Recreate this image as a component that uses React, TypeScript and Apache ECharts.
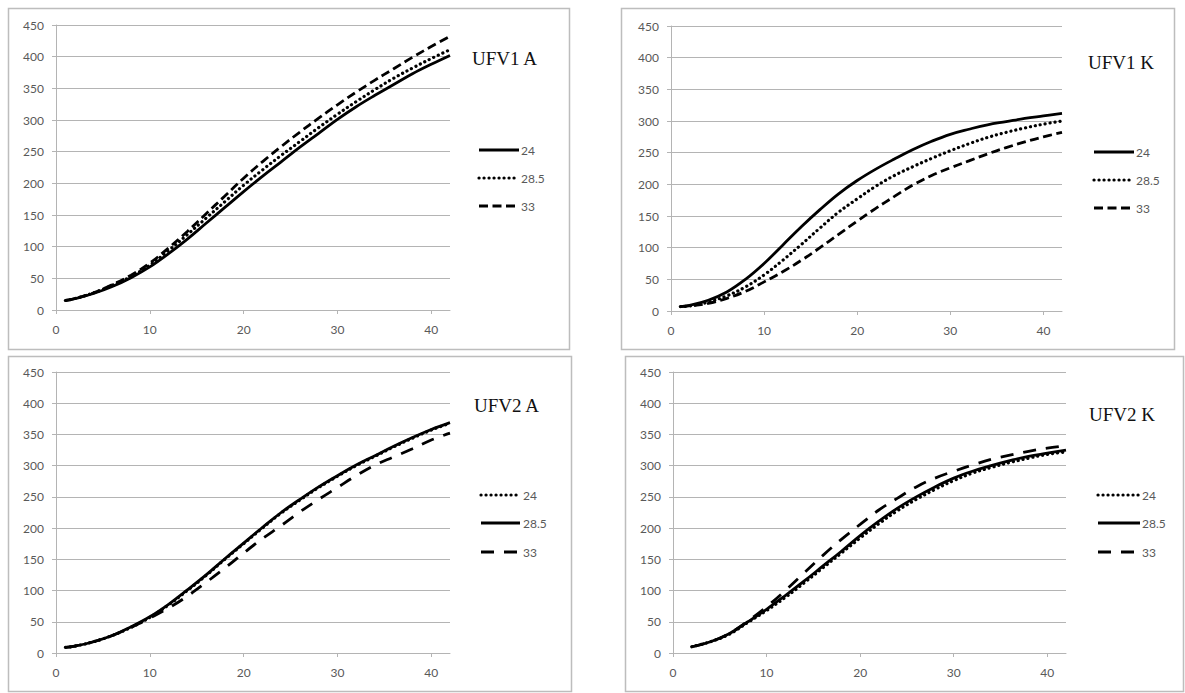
import React, { useEffect, useRef } from "react";
import * as echarts from "echarts";

// ---------- data ----------
const X_TL = [1, 2, 4, 6, 8, 10, 12, 14, 16, 18, 20, 22, 24, 26, 28, 30, 32, 34, 36, 38, 40, 42];
const X_TR = [1, 2, 4, 6, 8, 10, 12, 14, 16, 18, 20, 22, 24, 26, 28, 30, 32, 34, 36, 38, 40, 42];
const X_BL = [1, 2, 4, 6, 8, 10, 12, 14, 16, 18, 20, 22, 24, 26, 28, 30, 32, 34, 36, 38, 40, 42];
const X_BR = [2, 4, 6, 8, 10, 12, 14, 16, 18, 20, 22, 24, 26, 28, 30, 32, 34, 36, 38, 40, 42];

// UFV1 A
const UFV1A_24 = [15, 18, 26, 37, 51, 68, 89, 112, 137, 162, 187, 211, 234, 257, 279, 301, 321, 339, 356, 373, 388, 402];
const UFV1A_285 = [15, 18, 27, 39, 53, 71, 94, 119, 145, 171, 197, 221, 244, 266, 288, 309, 329, 348, 366, 382, 397, 411];
const UFV1A_33 = [15, 18, 27, 40, 55, 74, 98, 124, 152, 180, 208, 234, 258, 281, 303, 324, 344, 363, 381, 399, 416, 432];
// UFV1 K
const UFV1K_24 = [7, 9, 17, 30, 50, 75, 104, 133, 160, 185, 206, 224, 240, 255, 268, 279, 287, 294, 299, 304, 308, 312];
const UFV1K_285 = [7, 8, 14, 24, 38, 57, 80, 105, 131, 156, 177, 197, 214, 228, 241, 253, 264, 274, 282, 289, 295, 300];
const UFV1K_33 = [7, 8, 12, 20, 31, 46, 62, 80, 100, 121, 142, 162, 181, 199, 214, 226, 237, 248, 258, 267, 275, 282];
// UFV2 A
const UFV2A_24 = [9, 11, 18, 28, 41, 57, 77, 100, 124, 150, 175, 200, 224, 245, 265, 283, 300, 315, 330, 344, 357, 368];
const UFV2A_285 = [9, 11, 18, 28, 42, 58, 78, 101, 125, 151, 176, 201, 225, 246, 266, 284, 301, 316, 331, 345, 358, 369];
const UFV2A_33 = [9, 11, 18, 28, 41, 56, 72, 91, 113, 136, 160, 183, 204, 226, 246, 265, 284, 301, 314, 327, 341, 352];
// UFV2 K
const UFV2K_24 = [10, 18, 30, 49, 68, 89, 112, 136, 160, 184, 207, 228, 246, 262, 276, 288, 297, 305, 312, 318, 322];
const UFV2K_285 = [10, 18, 31, 50, 70, 92, 115, 139, 163, 188, 211, 232, 250, 266, 280, 291, 300, 308, 315, 320, 325];
const UFV2K_33 = [10, 18, 31, 51, 74, 100, 128, 156, 182, 206, 229, 248, 266, 280, 291, 301, 310, 317, 323, 328, 332];

const SERIES_NAMES = ["24", "28.5", "33"];
const PANEL_TITLES = ["UFV1 A", "UFV1 K", "UFV2 A", "UFV2 K"];
const X_TICKS = [0, 10, 20, 30, 40];

// ---------- styles ----------
const LABEL_FONT = "Lato";
const LABEL_COLOR = "#595959";
const GRID_COLOR = "#b4b4b4";
const BORDER_COLOR = "#bdbdbd";

type Pattern = "solid" | "dotted" | "dashedShort" | "dashedLong";

const lineStyleFor = (p: Pattern) => {
  const base: any = { color: "#000", width: 2.8, cap: "butt" };
  if (p === "dotted") return { ...base, type: [0.1, 4.9], cap: "round", width: 3.2 };
  if (p === "dashedShort") return { ...base, type: [9, 4.5] };
  if (p === "dashedLong") return { ...base, type: [13, 10] };
  return { ...base, type: "solid" };
};

const panels = [
  {
    xs: X_TL,
    ys: [UFV1A_24, UFV1A_285, UFV1A_33],
    patterns: ["solid", "dotted", "dashedShort"] as Pattern[],
    grid: { left: 56, top: 25, width: 394, height: 285 },
    border: { x: 8.5, y: 8.5, w: 561, h: 341 },
    title: { x: 472, y: 58 },
    legend: { x1: 479, x2: 519, tx: 521, ys: [150, 178, 206] },
  },
  {
    xs: X_TR,
    ys: [UFV1K_24, UFV1K_285, UFV1K_33],
    patterns: ["solid", "dotted", "dashedShort"] as Pattern[],
    grid: { left: 671, top: 26, width: 391, height: 285 },
    border: { x: 621.5, y: 8.5, w: 553, h: 341 },
    title: { x: 1088, y: 62 },
    legend: { x1: 1094, x2: 1134, tx: 1136, ys: [152, 180, 208] },
  },
  {
    xs: X_BL,
    ys: [UFV2A_24, UFV2A_285, UFV2A_33],
    patterns: ["dotted", "solid", "dashedLong"] as Pattern[],
    grid: { left: 56, top: 372, width: 394, height: 281 },
    border: { x: 8.5, y: 356.5, w: 563, h: 335 },
    title: { x: 474, y: 405 },
    legend: { x1: 481, x2: 520, tx: 523, ys: [495, 523, 552] },
  },
  {
    xs: X_BR,
    ys: [UFV2K_24, UFV2K_285, UFV2K_33],
    patterns: ["dotted", "solid", "dashedLong"] as Pattern[],
    grid: { left: 673, top: 372, width: 393, height: 281 },
    border: { x: 625.5, y: 356.5, w: 558, h: 335 },
    title: { x: 1089, y: 414 },
    legend: { x1: 1098, x2: 1140, tx: 1142, ys: [495, 523, 552] },
  },
];

export default function App() {
  const ref = useRef<HTMLDivElement>(null);

  useEffect(() => {
    if (!ref.current) return;
    const chart = echarts.init(ref.current, null, { renderer: "svg" });

    const grids = panels.map((p) => ({ ...p.grid, containLabel: false }));
    const xAxes = panels.map((p, i) => ({
      type: "value",
      gridIndex: i,
      min: 0,
      max: 42,
      interval: 10,
      axisLine: { show: true, lineStyle: { color: GRID_COLOR, width: 1 } },
      axisTick: { show: true, length: 4, customValues: X_TICKS, lineStyle: { color: GRID_COLOR } },
      axisLabel: {
        customValues: X_TICKS,
        margin: 13,
        fontFamily: LABEL_FONT,
        fontSize: 12,
        color: LABEL_COLOR,
      },
      splitLine: { show: false },
    }));
    const yAxes = panels.map((p, i) => ({
      type: "value",
      gridIndex: i,
      min: 0,
      max: 450,
      interval: 50,
      axisLine: { show: true, lineStyle: { color: GRID_COLOR, width: 1 } },
      axisTick: { show: true, length: 4, lineStyle: { color: GRID_COLOR } },
      axisLabel: { margin: 12, fontFamily: LABEL_FONT, fontSize: 12, color: LABEL_COLOR },
      splitLine: { show: true, lineStyle: { color: GRID_COLOR, width: 1 } },
    }));

    const series: any[] = [];
    panels.forEach((p, i) => {
      p.ys.forEach((vals, k) => {
        series.push({
          type: "line",
          name: SERIES_NAMES[k],
          xAxisIndex: i,
          yAxisIndex: i,
          data: vals.map((v, j) => [p.xs[j], v]),
          smooth: 0.4,
          symbol: "none",
          lineStyle: lineStyleFor(p.patterns[k]),
          z: k === 1 ? 3 : 2,
        });
      });
    });

    const graphic: any[] = [];
    panels.forEach((p, i) => {
      graphic.push({
        type: "rect",
        shape: { x: p.border.x, y: p.border.y, width: p.border.w, height: p.border.h },
        style: { fill: "none", stroke: BORDER_COLOR, lineWidth: 1.5 },
        silent: true,
        z: 0,
      });
      graphic.push({
        type: "text",
        x: p.title.x,
        y: p.title.y,
        style: {
          text: PANEL_TITLES[i],
          font: '19px "Liberation Serif", "Times New Roman", serif',
          fill: "#111",
          verticalAlign: "middle",
        },
      });
      SERIES_NAMES.forEach((name, k) => {
        const ls = lineStyleFor(p.patterns[k]);
        graphic.push({
          type: "line",
          shape: { x1: p.legend.x1, y1: p.legend.ys[k], x2: p.legend.x2, y2: p.legend.ys[k] },
          style: {
            stroke: "#000",
            lineWidth: ls.width,
            lineDash: Array.isArray(ls.type) ? ls.type : null,
            lineCap: ls.cap,
          },
        });
        graphic.push({
          type: "text",
          x: p.legend.tx,
          y: p.legend.ys[k],
          style: {
            text: name,
            font: `12px "${LABEL_FONT}"`,
            fill: LABEL_COLOR,
            verticalAlign: "middle",
          },
        });
      });
    });

    chart.setOption({
      animation: false,
      backgroundColor: "#fff",
      grid: grids,
      xAxis: xAxes,
      yAxis: yAxes,
      series,
      graphic,
    });

    return () => chart.dispose();
  }, []);

  return (
    <div
      ref={ref}
      style={{ position: "fixed", left: 0, top: 0, width: 1185, height: 693, background: "#fff" }}
    />
  );
}
